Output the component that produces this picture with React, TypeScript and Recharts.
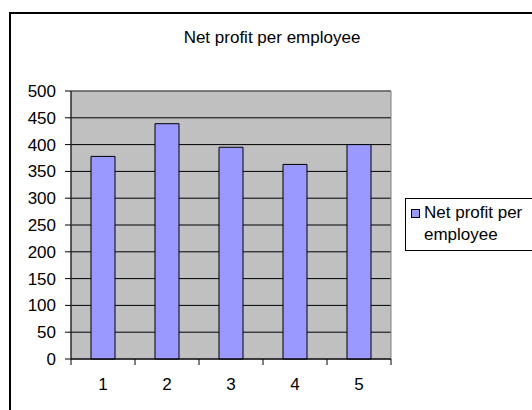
import React from 'react'
import {
  BarChart, Bar, XAxis, YAxis, CartesianGrid, ReferenceArea
} from 'recharts'

const categories = ['1', '2', '3', '4', '5']
const profitValues = [378, 439, 395, 363, 400]
const yTicks = [0, 50, 100, 150, 200, 250, 300, 350, 400, 450, 500]
const seriesName = 'Net profit per employee'

const FONT = '"Liberation Sans", Arial, sans-serif'
const PLOT_W = 320
const BAR_COLOR = '#9999FF'

const data = categories.map((name, i) => ({ name, value: profitValues[i] }))

// x ticks sit on the band edges, labels in the band centers
function XTick(props: any) {
  const { x, y, payload, index } = props
  const half = PLOT_W / categories.length / 2
  return (
    <g>
      <line x1={x - half} y1={y} x2={x - half} y2={y + 6} stroke="#000" />
      {index === categories.length - 1 && (
        <line x1={x + half} y1={y} x2={x + half} y2={y + 6} stroke="#000" />
      )}
      <text x={x} y={y + 19} dy="0.71em" textAnchor="middle" fill="#000"
        fontSize={17} fontFamily={FONT}>
        {payload.value}
      </text>
    </g>
  )
}

function LegendBox() {
  return (
    <div style={{
      position: 'absolute', left: 405, top: 198,
      border: '1px solid #000', background: '#fff', width: 140, height: 53,
      boxSizing: 'border-box', display: 'flex', alignItems: 'flex-start',
      padding: '3px 0 0 5px', fontFamily: FONT, fontSize: 17, lineHeight: '22px',
      color: '#000'
    }}>
      <span style={{
        display: 'inline-block', width: 7, height: 7, marginTop: 7, marginRight: 4,
        background: BAR_COLOR, border: '1px solid #000', flex: 'none'
      }} />
      <span style={{ width: 105 }}>{seriesName}</span>
    </div>
  )
}

export default function App() {
  return (
    <div style={{
      position: 'absolute', left: 0, top: 0, width: 532, height: 410,
      overflow: 'hidden', background: '#fff'
    }}>
      <div style={{
        position: 'absolute', left: 9, top: 12, width: 600, height: 500,
        border: '2px solid #000'
      }} />
      <div style={{
        position: 'absolute', left: 0, top: 28, width: 544, textAlign: 'center',
        fontFamily: FONT, fontSize: 17, lineHeight: '20px', color: '#000'
      }}>
        Net profit per employee
      </div>
      <div style={{ position: 'absolute', left: 0, top: 0 }}>
        <BarChart width={532} height={410} data={data}
          margin={{ top: 91, right: 141, left: 0, bottom: 0 }}
          barSize={24}>
          <CartesianGrid vertical={false} stroke="#000" fill="#C0C0C0" fillOpacity={1} />
          <ReferenceArea y1={0} y2={500} fill="none" stroke="#808080" />
          <XAxis dataKey="name" interval={0} height={51} tickSize={0} tickMargin={0}
            tickLine={false} axisLine={{ stroke: '#000' }} tick={<XTick />} />
          <YAxis domain={[0, 500]} ticks={yTicks} width={71} tickSize={6} tickMargin={9}
            axisLine={{ stroke: '#000' }} tickLine={{ stroke: '#000' }}
            tick={{ fill: '#000', fontSize: 17, fontFamily: FONT }} />
          <Bar dataKey="value" name={seriesName} fill={BAR_COLOR} stroke="#000"
            strokeWidth={1} isAnimationActive={false} />
        </BarChart>
      </div>
      <LegendBox />
    </div>
  )
}
